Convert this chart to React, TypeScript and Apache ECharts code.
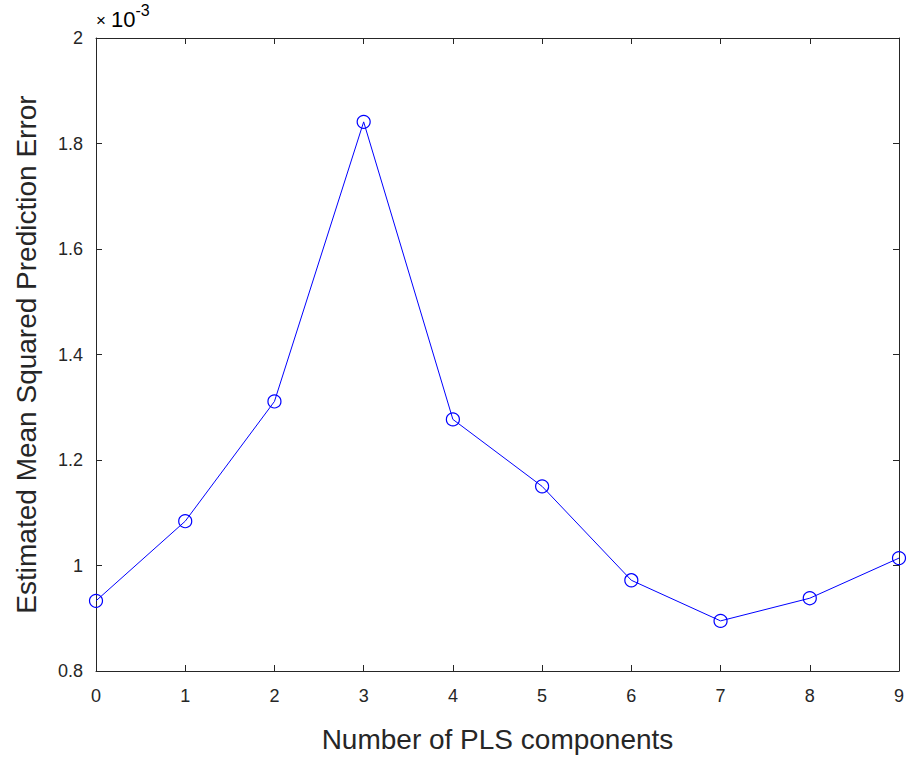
import React, { useEffect, useRef } from "react";
import * as echarts from "echarts";

// Cross-validated MSE per number of PLS components
const components = [0, 1, 2, 3, 4, 5, 6, 7, 8, 9];
const mspe = [
  0.000933, 0.001084, 0.001311, 0.001841, 0.001277, 0.00115, 0.000972, 0.000895,
  0.000938, 0.001014,
];
const yTicks = [0.8, 1, 1.2, 1.4, 1.6, 1.8, 2];

const FONT = "'Liberation Sans', Arial, Helvetica, sans-serif";
const AXIS = "#262626";

export default function App() {
  const ref = useRef<HTMLDivElement>(null);

  useEffect(() => {
    if (!ref.current) return;
    const chart = echarts.init(ref.current, undefined, { renderer: "svg" });
    const data = components.map((c, i) => [c, mspe[i] * 1000]);

    const mirrorAxis = {
      axisLine: { show: true, onZero: false, lineStyle: { color: AXIS, width: 1 } },
      axisTick: { show: true, inside: true, length: 6, lineStyle: { color: AXIS } },
      axisLabel: { show: false },
      splitLine: { show: false },
    };

    chart.setOption({
      animation: false,
      backgroundColor: "#ffffff",
      grid: { left: 96, right: 9, top: 38, bottom: 86, containLabel: false },
      xAxis: [
        {
          type: "value",
          min: 0,
          max: 9,
          interval: 1,
          position: "bottom",
          name: "Number of PLS components",
          nameLocation: "middle",
          nameGap: 54,
          nameTextStyle: { fontFamily: FONT, fontSize: 28, color: AXIS },
          axisLine: { show: true, onZero: false, lineStyle: { color: AXIS, width: 1 } },
          axisTick: { show: true, inside: true, length: 6, lineStyle: { color: AXIS } },
          axisLabel: { fontFamily: FONT, fontSize: 18, color: AXIS, margin: 16 },
          splitLine: { show: false },
        },
        { type: "value", min: 0, max: 9, interval: 1, position: "top", ...mirrorAxis },
      ],
      yAxis: [
        {
          type: "value",
          min: yTicks[0],
          max: yTicks[yTicks.length - 1],
          interval: 0.2,
          position: "left",
          name: "Estimated Mean Squared Prediction Error",
          nameLocation: "middle",
          nameGap: 56,
          nameRotate: 90,
          nameTextStyle: { fontFamily: FONT, fontSize: 28, color: AXIS },
          axisLine: { show: true, onZero: false, lineStyle: { color: AXIS, width: 1 } },
          axisTick: { show: true, inside: true, length: 6, lineStyle: { color: AXIS } },
          axisLabel: {
            fontFamily: FONT,
            fontSize: 18,
            color: AXIS,
            margin: 13,
            formatter: (v: number) => String(Math.round(v * 10) / 10),
          },
          splitLine: { show: false },
        },
        {
          type: "value",
          min: yTicks[0],
          max: yTicks[yTicks.length - 1],
          interval: 0.2,
          position: "right",
          ...mirrorAxis,
        },
      ],
      graphic: [
        {
          type: "text",
          left: 96,
          top: 2,
          style: {
            text: "{a|×}{b|10}{c|-3}",
            rich: {
              a: { fontFamily: FONT, fontSize: 17, color: "#555555", verticalAlign: "bottom", padding: [0, 5, 1, 0] },
              b: { fontFamily: FONT, fontSize: 22, color: AXIS, verticalAlign: "bottom" },
              c: { fontFamily: FONT, fontSize: 16, color: AXIS, verticalAlign: "top", padding: [0, 0, 12, 0] },
            },
          },
        },
      ],
      series: [
        {
          type: "line",
          data,
          xAxisIndex: 0,
          yAxisIndex: 0,
          symbol: "circle",
          symbolSize: 13,
          showAllSymbol: true,
          lineStyle: { color: "#0000ff", width: 1 },
          itemStyle: { color: "rgba(0,0,0,0)", borderColor: "#0000ff", borderWidth: 1.2 },
          clip: false,
        },
      ],
    });

    return () => chart.dispose();
  }, []);

  return (
    <div
      ref={ref}
      style={{ position: "fixed", left: 0, top: 0, width: 908, height: 758 }}
    />
  );
}
